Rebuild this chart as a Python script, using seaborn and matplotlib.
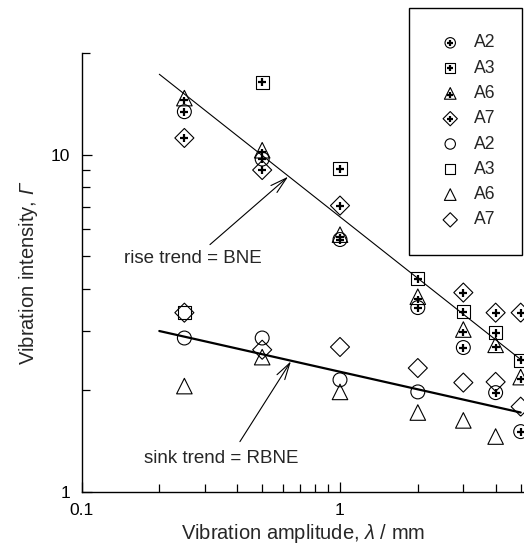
import numpy as np
import matplotlib
matplotlib.use('Agg')
import matplotlib.pyplot as plt
import seaborn as sns
from matplotlib.markers import MarkerStyle
from matplotlib.transforms import Affine2D
from matplotlib.ticker import FixedLocator, FixedFormatter, NullFormatter

nan = np.nan

# vibration amplitude (mm)
amp = [0.25, 0.5, 1, 2, 3, 4, 5]

# rise data (marker with plus)
a2_rise = [13.4, 9.7, 5.6, 3.52, 2.68, 1.97, 1.51]
a3_rise = [nan, 16.4, 9.09, 4.29, 3.42, 2.96, 2.46]
a6_rise = [14.7, 10.3, 5.79, 3.79, 3.03, 2.73, 2.19]
a7_rise = [11.2, 9.0, 7.06, nan, 3.9, 3.4, 3.4]

# sink data (open marker)
a2_sink = [2.86, 2.86, 2.15, 1.98, nan, nan, nan]
a3_sink = [3.4, nan, nan, nan, nan, nan, nan]
a6_sink = [2.06, 2.51, 1.98, 1.72, 1.63, 1.46, nan]
a7_sink = [3.4, 2.64, 2.69, 2.33, 2.11, 2.12, 1.79]

# trend lines (end points, straight in log-log)
trend_x = [0.2, 5]
bne_y = [17.3, 2.47]
rbne_y = [3.0, 1.72]

labels = ['A2', 'A3', 'A6', 'A7']

sns.set_style('ticks')
plt.rcParams['font.family'] = ['Liberation Sans', 'DejaVu Sans']
plt.rcParams['mathtext.fontset'] = 'custom'
plt.rcParams['mathtext.rm'] = 'Liberation Sans:italic'
plt.rcParams['mathtext.it'] = 'Liberation Sans:italic'

fig = plt.figure(figsize=(5.24, 5.52), dpi=100)
ax = fig.add_axes([81.5 / 524, 60 / 552, (524 - 81.5) / 524, 439 / 552])

shapes = {'A2': ('o', 100), 'A3': ('s', 88), 'A6': ('^', 125), 'A7': ('D', 94)}
plus = MarkerStyle('+')
plus_tri = MarkerStyle('+', transform=Affine2D().translate(0, -0.35))

rise_handles = []
for lab, ys in zip(labels, [a2_rise, a3_rise, a6_rise, a7_rise]):
    m, s = shapes[lab]
    sns.scatterplot(x=amp, y=ys, marker=m, s=s, facecolor='none',
                    edgecolor='black', linewidth=0.8, ax=ax, zorder=3)
    shape = ax.collections[-1]
    pm = plus_tri if lab == 'A6' else plus
    sns.scatterplot(x=amp, y=ys, marker=pm, s=26, color='black',
                    linewidth=1.6, ax=ax, zorder=4)
    rise_handles.append((shape, ax.collections[-1]))

sink_handles = []
for lab, ys in zip(labels, [a2_sink, a3_sink, a6_sink, a7_sink]):
    m, s = shapes[lab]
    sns.scatterplot(x=amp, y=ys, marker=m, s=s, facecolor='none',
                    edgecolor='black', linewidth=0.8, ax=ax, zorder=3)
    sink_handles.append(ax.collections[-1])

sns.lineplot(x=trend_x, y=bne_y, color='black', linewidth=0.8, ax=ax)
sns.lineplot(x=trend_x, y=rbne_y, color='black', linewidth=1.6, ax=ax)

ax.set_xscale('log')
ax.set_yscale('log')
ax.set_xlim(0.1, 5.15)
ax.set_ylim(1, 20)

ax.xaxis.set_major_locator(FixedLocator([0.1, 1]))
ax.xaxis.set_major_formatter(FixedFormatter(['0.1', '1']))
ax.xaxis.set_minor_locator(FixedLocator([0.2, 0.3, 0.4, 0.5, 0.6, 0.7, 0.8, 0.9, 2, 3, 4, 5]))
ax.xaxis.set_minor_formatter(NullFormatter())
ax.yaxis.set_major_locator(FixedLocator([1, 10]))
ax.yaxis.set_major_formatter(FixedFormatter(['1', '10']))
ax.yaxis.set_minor_locator(FixedLocator([2, 3, 4, 5, 6, 7, 8, 9, 20]))
ax.yaxis.set_minor_formatter(NullFormatter())

ax.tick_params(which='both', direction='in', width=0.9, colors='black', labelsize=12.5, pad=8)
ax.tick_params(which='major', length=7)
ax.tick_params(which='minor', length=5.5)
sns.despine(ax=ax)
for sp in ['left', 'bottom']:
    ax.spines[sp].set_linewidth(1.0)
    ax.spines[sp].set_color('black')

ax.set_xlabel(r'Vibration amplitude, $\lambda$ / mm', fontsize=14.5, labelpad=3)
ax.set_ylabel(r'Vibration intensity, $\Gamma$', fontsize=14.5, labelpad=8)

arrow = dict(arrowstyle='->,head_length=0.8,head_width=0.22', color='black',
             linewidth=0.8, mutation_scale=15, shrinkA=0, shrinkB=0)
ax.annotate('', xy=(0.63, 8.6), xytext=(0.314, 5.41), arrowprops=arrow)
ax.text(0.27, 4.91, 'rise trend = BNE', fontsize=13.5, ha='center', va='center')
ax.annotate('', xy=(0.646, 2.44), xytext=(0.41, 1.41), arrowprops=arrow)
ax.text(0.347, 1.26, 'sink trend = RBNE', fontsize=13.5, ha='center', va='center')

leg = ax.legend(rise_handles + sink_handles, labels + labels,
                loc='upper right', bbox_to_anchor=(522 / 524, 544 / 552),
                bbox_transform=fig.transFigure, borderaxespad=0,
                fontsize=12.7, frameon=True, fancybox=False, framealpha=1,
                edgecolor='black', borderpad=1.5, handlelength=1.7,
                handletextpad=0.5, labelspacing=0.47, markerscale=0.75)
leg.get_frame().set_linewidth(1.0)

fig.savefig('out.png', dpi=100)
